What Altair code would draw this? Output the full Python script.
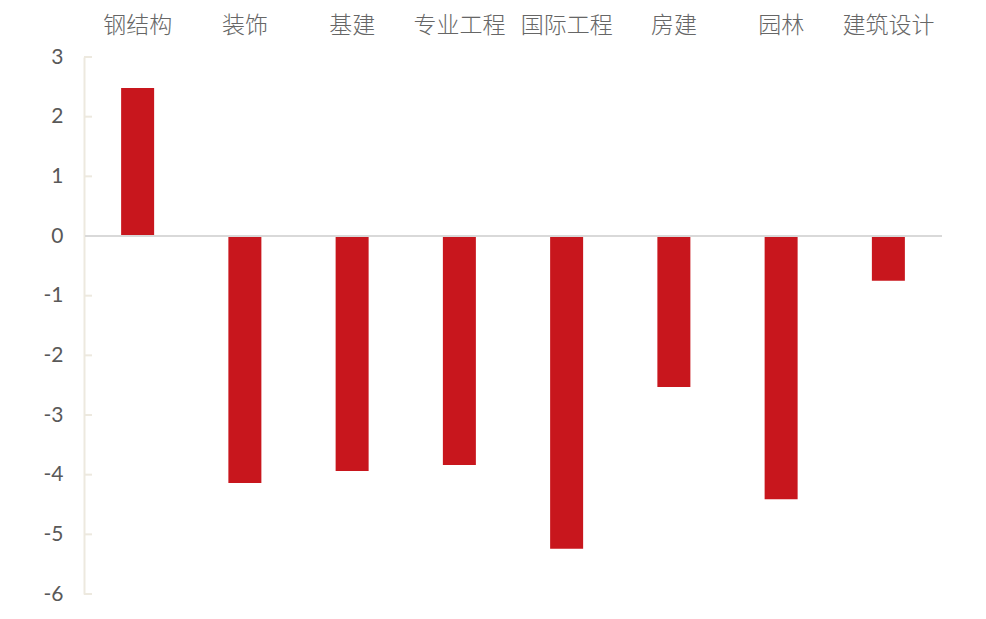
import altair as alt
import pandas as pd

categories = ["钢结构", "装饰", "基建", "专业工程", "国际工程", "房建", "园林", "建筑设计"]
values = [2.48, -4.14, -3.94, -3.84, -5.24, -2.53, -4.41, -0.75]
y_ticks = [-6, -5, -4, -3, -2, -1, 0, 1, 2, 3]

df = pd.DataFrame({"cat": categories, "val": values})
ticks_df = pd.DataFrame({"t": y_ticks})

yscale = alt.Scale(domain=[-6, 3], nice=False, zero=False)
xscale = alt.Scale(paddingInner=0, paddingOuter=0)

bars = alt.Chart(df).mark_bar(size=33, color="#c8161d").encode(
    x=alt.X("cat:N", sort=categories, scale=xscale, title=None,
            axis=alt.Axis(orient="top", labelAngle=0, domain=False, ticks=False, tickSize=0,
                          labelFont="Noto Sans CJK SC", labelFontSize=23, labelFontWeight=300,
                          labelColor="#666666", labelPadding=20, grid=False)),
    y=alt.Y("val:Q", scale=yscale, title=None,
            axis=alt.Axis(values=y_ticks, labelExpr="'' + datum.value",
                          domainColor="#ede9df", domainWidth=2, ticks=False,
                          tickSize=0, labelFont="Lato", labelFontSize=21, labelColor="#595959",
                          labelPadding=21, grid=False)),
)

inner_ticks = alt.Chart(ticks_df).mark_rule(color="#ede9df", strokeWidth=2).encode(
    y=alt.Y("t:Q", scale=yscale),
    x=alt.value(0),
    x2=alt.value(8),
)

zero_line = alt.Chart(pd.DataFrame({"z": [0]})).mark_rule(color="#d9d9d9", strokeWidth=2).encode(
    y=alt.Y("z:Q", scale=yscale),
    x=alt.value(1),
    x2=alt.value(858),
)

chart = alt.layer(bars, inner_ticks, zero_line).properties(
    width=858, height=537,
    autosize=alt.AutoSizeParams(type="none"),
    padding={"left": 84, "top": 57, "right": 44, "bottom": 25},
    background="white",
).configure_view(stroke=None)

chart.save("out.html", embed_options={"renderer": "svg", "actions": False})
